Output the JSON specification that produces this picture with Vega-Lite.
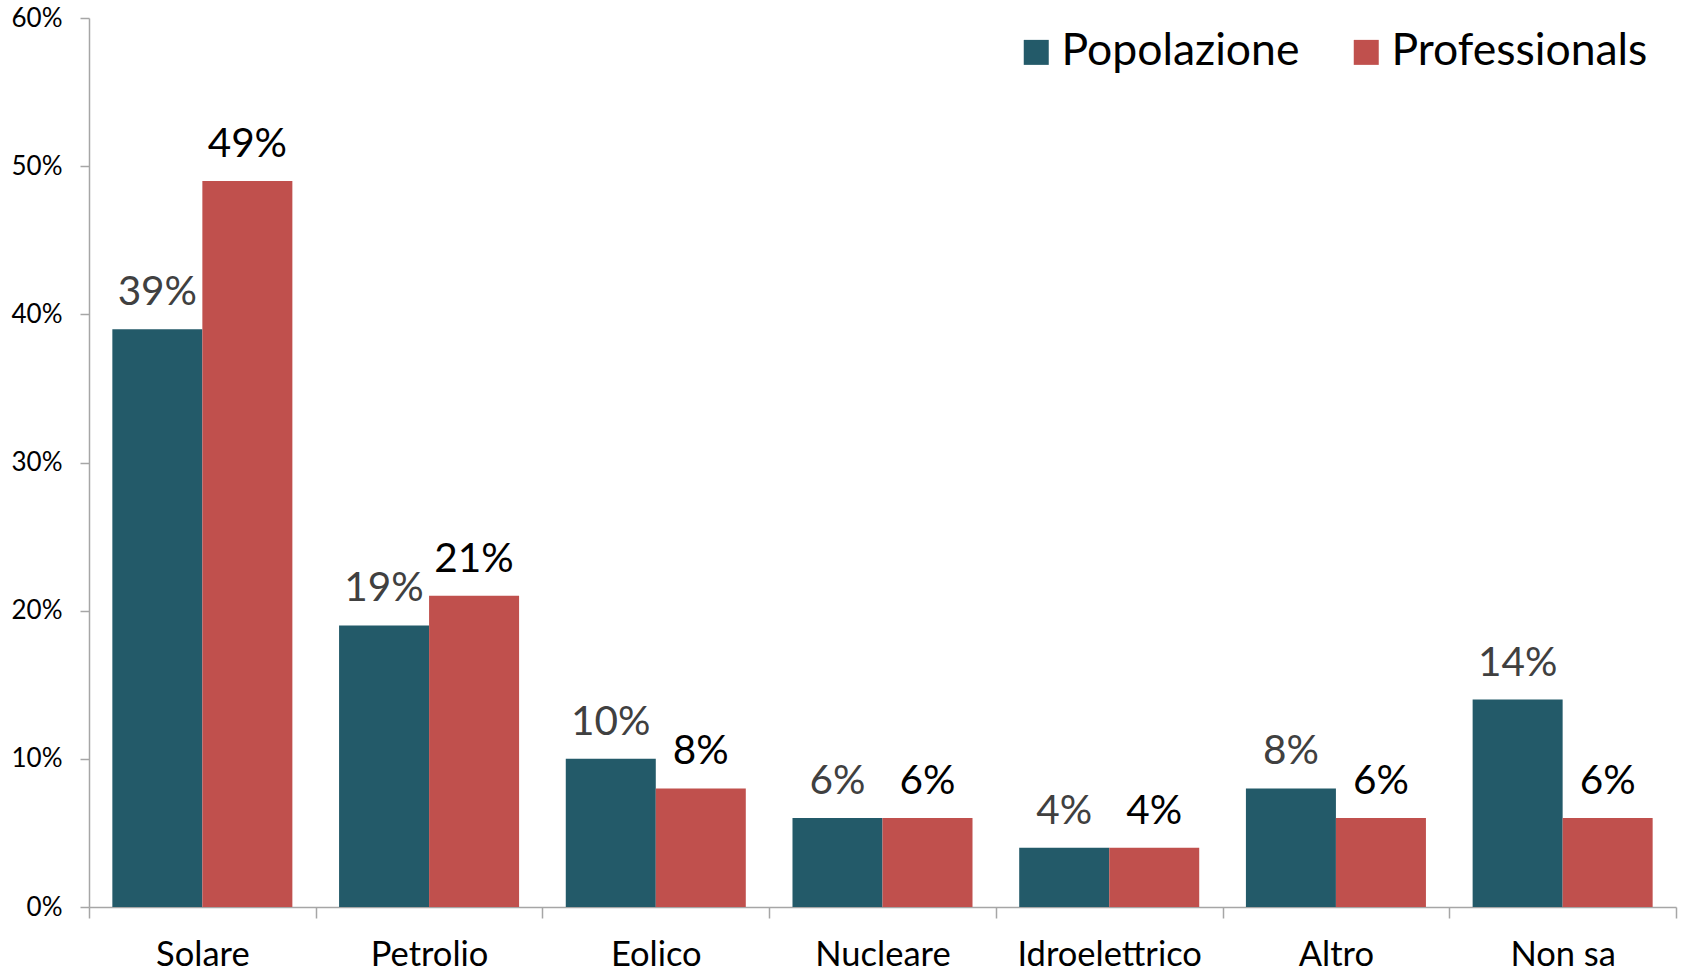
{
  "$schema": "https://vega.github.io/schema/vega-lite/v6.json",
  "autosize": {"type": "none"},
  "width": 1587,
  "height": 889,
  "padding": {"left": 89, "top": 18, "right": 5, "bottom": 64},
  "background": "white",
  "config": {
    "font": "Lato",
    "view": {"stroke": null},
    "axis": {"grid": false}
  },
  "data": {
    "values": [
      {"cat": "Solare", "series": "Popolazione", "value": 0.39},
      {"cat": "Solare", "series": "Professionals", "value": 0.49},
      {"cat": "Petrolio", "series": "Popolazione", "value": 0.19},
      {"cat": "Petrolio", "series": "Professionals", "value": 0.21},
      {"cat": "Eolico", "series": "Popolazione", "value": 0.10},
      {"cat": "Eolico", "series": "Professionals", "value": 0.08},
      {"cat": "Nucleare", "series": "Popolazione", "value": 0.06},
      {"cat": "Nucleare", "series": "Professionals", "value": 0.06},
      {"cat": "Idroelettrico", "series": "Popolazione", "value": 0.04},
      {"cat": "Idroelettrico", "series": "Professionals", "value": 0.04},
      {"cat": "Altro", "series": "Popolazione", "value": 0.08},
      {"cat": "Altro", "series": "Professionals", "value": 0.06},
      {"cat": "Non sa", "series": "Popolazione", "value": 0.14},
      {"cat": "Non sa", "series": "Professionals", "value": 0.06}
    ]
  },
  "encoding": {
    "x": {
      "field": "cat",
      "type": "nominal",
      "sort": null,
      "scale": {"paddingInner": 0, "paddingOuter": 0},
      "axis": {
        "title": null,
        "labelAngle": 0,
        "tickBand": "extent",
        "domainColor": "#a6a6a6",
        "domainWidth": 1.5,
        "tickColor": "#a6a6a6",
        "tickWidth": 1.5,
        "tickSize": 11,
        "labelPadding": 47,
        "labelBaseline": "alphabetic",
        "labelFontSize": 34.5,
        "labelColor": "#000000",
        "labelFont": "Lato",
        "labelLimit": 0,
        "labelOverlap": false
      }
    },
    "xOffset": {
      "field": "series",
      "type": "nominal",
      "sort": ["Popolazione", "Professionals"],
      "scale": {"paddingInner": 0, "paddingOuter": 0.2594}
    },
    "y": {
      "field": "value",
      "type": "quantitative",
      "scale": {"domain": [0, 0.6], "nice": false},
      "axis": {
        "title": null,
        "values": [0, 0.1, 0.2, 0.3, 0.4, 0.5, 0.6],
        "format": ".0%",
        "domainColor": "#a6a6a6",
        "domainWidth": 1.5,
        "tickColor": "#a6a6a6",
        "tickWidth": 1.5,
        "tickSize": 9,
        "labelPadding": 18,
        "labelFontSize": 26,
        "labelColor": "#000000",
        "labelFont": "Lato"
      }
    }
  },
  "layer": [
    {
      "mark": {"type": "bar"},
      "encoding": {
        "color": {
          "field": "series",
          "type": "nominal",
          "scale": {"domain": ["Popolazione", "Professionals"], "range": ["#235A69", "#C0504D"]},
          "legend": {
            "title": null,
            "orient": "none",
            "direction": "horizontal",
            "legendX": 925,
            "legendY": 12,
            "padding": 0,
            "symbolType": "square",
            "symbolSize": 625,
            "symbolStrokeWidth": 0,
            "labelFontSize": 44.5,
            "labelFont": "Lato",
            "labelColor": "#000000",
            "labelOffset": 3,
            "columnPadding": 44,
            "labelLimit": 0
          }
        }
      }
    },
    {
      "mark": {"type": "text", "baseline": "alphabetic", "align": "center", "dy": -24, "fontSize": 40.5, "font": "Lato"},
      "encoding": {
        "text": {"field": "value", "type": "quantitative", "format": ".0%"},
        "color": {
          "condition": {"test": "datum.series === 'Popolazione'", "value": "#404040"},
          "value": "#000000"
        }
      }
    }
  ]
}
